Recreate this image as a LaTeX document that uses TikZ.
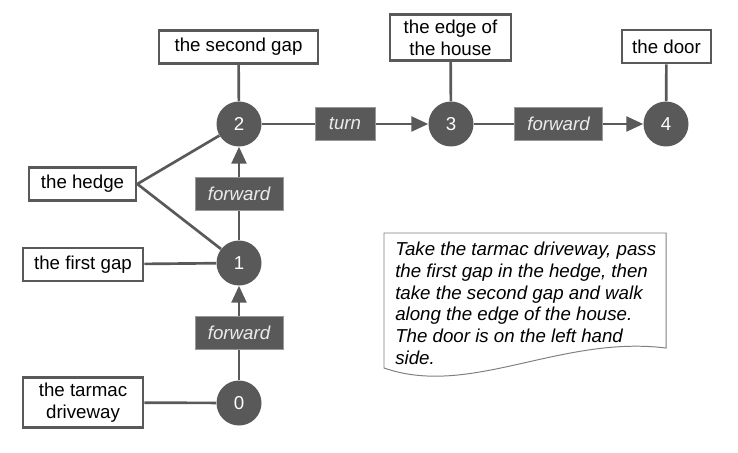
\documentclass[tikz,border=0pt]{standalone}
\usepackage{fontspec}
\setmainfont{Liberation Sans}
\usetikzlibrary{arrows.meta}
\definecolor{dark}{HTML}{595959}

\begin{document}
\begin{tikzpicture}[font=\fontsize{13.3}{15.4}\selectfont,
		main/.style = {circle, fill=dark, text=white, minimum size=1.125cm, inner sep=0pt},
		place/.style = {draw=dark, line width=1.9pt, fill=white, align=center, minimum height=0.825cm, inner ysep=4pt, inner xsep=0pt},
		move/.style = {fill=dark, draw=gray!80, line width=0.5pt, text=white!92!black, font=\fontsize{13.3}{15.4}\selectfont\itshape, minimum height=0.825cm, inner sep=0pt},
		link/.style = {draw=dark, line width=1.9pt},
		arrow/.style = {link, -{Triangle[length=0.42cm, width=0.37cm]}}]
		\useasboundingbox (0,0) rectangle (18.45,-11.325);
		
		\node[main] (0) at (5.975,-10.075) {0};
		\node[main] (1) at (5.975,-6.575) {1};
		\node[main] (2) at (5.975,-3.1) {2};
		\node[main] (3) at (11.275,-3.1) {3};
		\node[main] (4) at (16.65,-3.1) {4};
		
		\node[place, minimum width=3cm] (drive) at (2.075,-10.0625) {the tarmac\\driveway};
		\node[place, minimum width=3cm] (gap1) at (2.075,-6.6125) {the first gap};
		\node[place, minimum width=2.675cm] (hedge) at (2.0625,-4.6) {the hedge};
		\node[place, minimum width=3.975cm] (gap2) at (5.9625,-1.175) {the second gap};
		\node[place, minimum width=3.025cm] (house) at (11.2625,-0.9375) {the edge of\\the house};
		\node[place, minimum width=2.225cm] (door) at (16.6625,-1.1625) {the door};
		
		\draw[link] (drive) -- (0);
		\draw[link] (gap1) -- (1);
		\draw[link] (hedge.east) -- (1);
		\draw[link] (hedge.east) -- (2);
		\draw[link] (gap2) -- (2);
		\draw[link] (house) -- (3);
		\draw[link] (door) -- (4);
		
		\draw[arrow] (0) -- node[move, minimum width=2.2cm] (f1) {forward} (1);
		\draw[arrow] (1) -- node[move, minimum width=2.2cm] (f2) {forward} (2);
		\draw[arrow] (2) -- node[move, minimum width=1.5cm] (t) {turn} (3);
		\draw[arrow] (3) -- node[move, minimum width=2.2cm] (f3) {forward} (4);
		
		% the note
		\draw[gray, line width=0.7pt, fill=white] (9.6,-5.825) -- (16.65,-5.825) -- (16.65,-8.7)
			.. controls (14,-8.375) and (11.75,-9.95) .. (9.6,-9.2) -- cycle;
		\node[anchor=north west, align=left, inner sep=0pt, font=\fontsize{13.3}{15.4}\selectfont\itshape] (note) at (9.875,-6.05)
			{Take the tarmac driveway, pass\\the first gap in the hedge, then\\take the second gap and walk\\along the edge of the house.\\The door is on the left hand\\side.};
		
\end{tikzpicture}
\end{document}
